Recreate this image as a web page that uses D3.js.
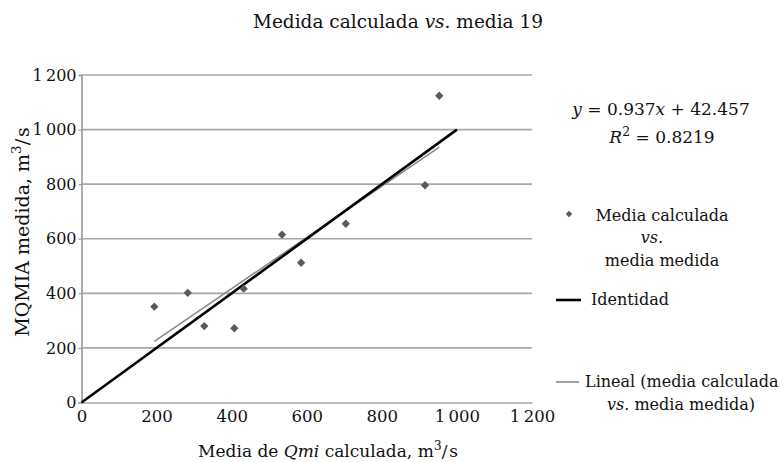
<!DOCTYPE html>
<html><head><meta charset="utf-8">
<script src="https://cdn.jsdelivr.net/npm/d3@7/dist/d3.min.js"></script>
<style>
body{margin:0;background:#fff;}
text{font-family:"DejaVu Serif",serif;fill:#111;}
</style></head>
<body><svg id="c" width="783" height="462"></svg>
<script>
const calculada = [194, 283, 327, 407, 432, 534, 585, 704, 915, 953];
const medida    = [351, 402, 280, 272, 417, 615, 512, 655, 796, 1124];
const xTicks = [0, 200, 400, 600, 800, 1000, 1200];
const yTicks = [0, 200, 400, 600, 800, 1000, 1200];
const slope = 0.937, intercept = 42.457, r2 = "0.8219";
const identidad = [0, 1000];

const svg = d3.select("#c");
const x = d3.scaleLinear().domain([0, 1200]).range([81.5, 532]);
const y = d3.scaleLinear().domain([0, 1200]).range([402.5, 75]);
const fmtT = v => d3.format(",")(v).replace(/,/g, "\u2009");

// gridlines
svg.append("g").selectAll("line").data(yTicks.filter(d => d > 0)).join("line")
  .attr("x1", x(0)).attr("x2", x(1200)).attr("y1", d => y(d)).attr("y2", d => y(d))
  .attr("stroke", "#a8a8a8").attr("stroke-width", 1.6);

// y axis
const ya = svg.append("g").attr("transform", `translate(${x(0)},0)`)
  .call(d3.axisLeft(y).tickValues(yTicks).tickSize(3).tickPadding(2).tickFormat(fmtT));
ya.select(".domain").attr("stroke", "#999").attr("stroke-width", 1.6);
ya.selectAll(".tick line").attr("stroke", "#999").attr("stroke-width", 1.2);
ya.selectAll(".tick text").style("font-family", "DejaVu Serif").style("font-size", "16px").attr("fill", "#111");

// x axis
const xa = svg.append("g").attr("transform", `translate(0,${y(0)})`)
  .call(d3.axisBottom(x).tickValues(xTicks).tickSize(0).tickPadding(8).tickFormat(fmtT));
xa.select(".domain").attr("stroke", "#a8a8a8").attr("stroke-width", 1.6);
xa.selectAll(".tick text").style("font-family", "DejaVu Serif").style("font-size", "16.5px").attr("fill", "#111");

// regression line
const xmin = d3.min(calculada), xmax = d3.max(calculada);
svg.append("line")
  .attr("x1", x(xmin)).attr("y1", y(slope * xmin + intercept))
  .attr("x2", x(xmax)).attr("y2", y(slope * xmax + intercept))
  .attr("stroke", "#8a8a8a").attr("stroke-width", 1.6);

// identity line
svg.append("line")
  .attr("x1", x(identidad[0])).attr("y1", y(identidad[0]))
  .attr("x2", x(identidad[1])).attr("y2", y(identidad[1]))
  .attr("stroke", "#000").attr("stroke-width", 2.6);

// points
const diamond = d3.symbol().type(d3.symbolDiamond2).size(44);
svg.append("g").selectAll("path").data(calculada).join("path")
  .attr("d", diamond)
  .attr("transform", (d, i) => `translate(${x(d)},${y(medida[i])})`)
  .attr("fill", "#5a5a5a");

// title
const t = svg.append("text").attr("x", 398).attr("y", 28).attr("text-anchor", "middle").style("font-size", "18.5px");
t.append("tspan").text("Medida calculada ");
t.append("tspan").attr("font-style", "italic").text("vs.");
t.append("tspan").text(" media 19");

// x title
const xt = svg.append("text").attr("x", 328).attr("y", 457).attr("text-anchor", "middle").style("font-size", "17px");
xt.append("tspan").text("Media de ");
xt.append("tspan").attr("font-style", "italic").text("Qmi");
xt.append("tspan").text(" calculada, m");
xt.append("tspan").attr("dy", -7).style("font-size", "12.5px").text("3");
xt.append("tspan").attr("dy", 7).text("/\u200As");

// y title
const yt = svg.append("text").attr("transform", "translate(29,232) rotate(-90)").attr("text-anchor", "middle").style("font-size", "19px");
yt.append("tspan").text("MQMIA medida, m");
yt.append("tspan").attr("dy", -8).style("font-size", "13.5px").text("3");
yt.append("tspan").attr("dy", 8).text("/\u200As");

// equation
const eq = svg.append("text").attr("x", 661).attr("y", 115).attr("text-anchor", "middle").style("font-size", "17px");
eq.append("tspan").attr("font-style", "italic").text("y");
eq.append("tspan").text(` = ${slope}`);
eq.append("tspan").attr("font-style", "italic").text("x");
eq.append("tspan").text(` + ${intercept}`);
const rr = svg.append("text").attr("x", 662).attr("y", 143).attr("text-anchor", "middle").style("font-size", "17px");
rr.append("tspan").attr("font-style", "italic").text("R");
rr.append("tspan").attr("dy", -7).style("font-size", "12.5px").text("2");
rr.append("tspan").attr("dy", 7).text(` = ${r2}`);

// legend
const lg = svg.append("g").style("font-size", "16px");
lg.append("path").attr("d", d3.symbol().type(d3.symbolDiamond2).size(26)).attr("transform", "translate(569,214)").attr("fill", "#5a5a5a");
lg.append("text").attr("x", 662).attr("y", 221).attr("text-anchor", "middle").text("Media calculada");
lg.append("text").attr("x", 652).attr("y", 243).attr("text-anchor", "middle").attr("font-style", "italic").text("vs.");
lg.append("text").attr("x", 662).attr("y", 266).attr("text-anchor", "middle").text("media medida");
lg.append("line").attr("x1", 556).attr("x2", 581).attr("y1", 300).attr("y2", 300).attr("stroke", "#000").attr("stroke-width", 2.6);
lg.append("text").attr("x", 591).attr("y", 305).text("Identidad");
lg.append("line").attr("x1", 556).attr("x2", 579).attr("y1", 382).attr("y2", 382).attr("stroke", "#8a8a8a").attr("stroke-width", 1.6);
lg.append("text").attr("x", 585).attr("y", 387).text("Lineal (media calculada");
const l2 = lg.append("text").attr("x", 681).attr("y", 410).attr("text-anchor", "middle");
l2.append("tspan").attr("font-style", "italic").text("vs.");
l2.append("tspan").text(" media medida)");
</script></body></html>
